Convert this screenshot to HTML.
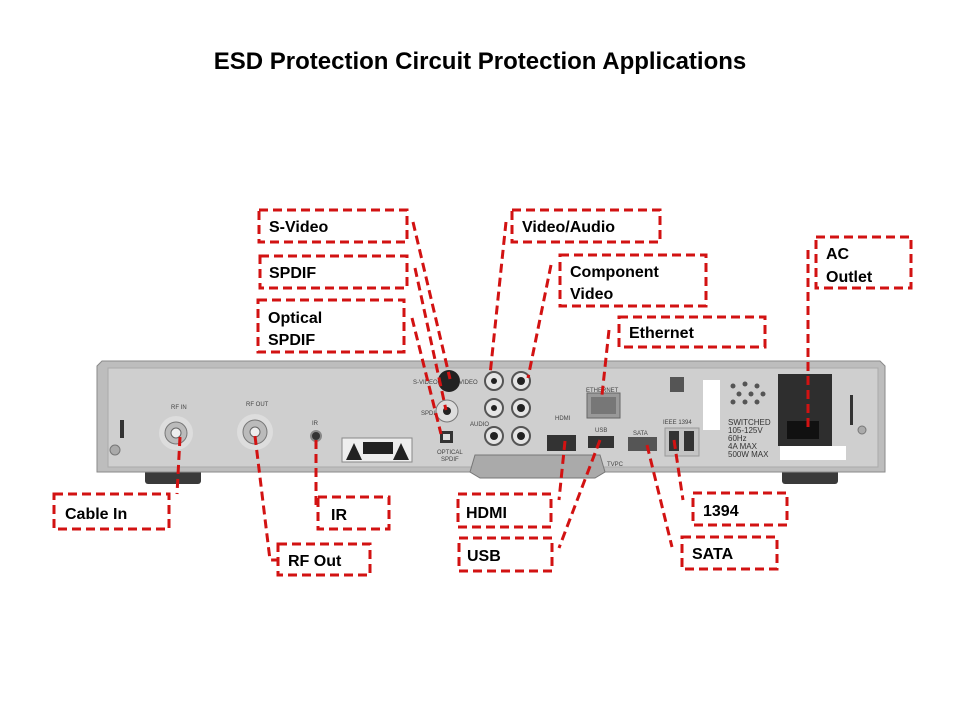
<!DOCTYPE html>
<html><head><meta charset="utf-8"><style>
html,body{margin:0;padding:0;background:#fff;}
svg{display:block}
text{font-family:"Liberation Sans",sans-serif;}
.l{font-weight:bold;font-size:16px;fill:#000}
.b{fill:none;stroke:#d21212;stroke-width:3;stroke-dasharray:9 5}
.c{fill:none;stroke:#d21212;stroke-width:3;stroke-dasharray:9 5}
.s{font-size:6px;fill:#444}
</style></head><body>
<svg width="960" height="720" viewBox="0 0 960 720">
<text x="480" y="69" text-anchor="middle" style="font-weight:bold;font-size:24px">ESD Protection Circuit Protection Applications</text>

<!-- device -->
<rect x="145" y="466" width="56" height="18" rx="3" fill="#3a3a3a"/>
<rect x="782" y="466" width="56" height="18" rx="3" fill="#3a3a3a"/>
<path d="M97 366 L102 361 L880 361 L885 366 L885 472 L97 472 Z" fill="#bdbdbd" stroke="#8a8a8a"/>
<rect x="108" y="368" width="770" height="99" fill="#cfcfcf" stroke="#aaa"/>
<rect x="120" y="420" width="4" height="18" fill="#333"/>
<circle cx="115" cy="450" r="5" fill="#aaa" stroke="#777"/>
<!-- RF -->
<text x="171" y="409" class="s">RF IN</text>
<circle cx="176" cy="433" r="17" fill="#ddd"/>
<circle cx="176" cy="433" r="11" fill="#bbb" stroke="#777"/>
<circle cx="176" cy="433" r="5" fill="#eee" stroke="#666"/>
<text x="246" y="406" class="s">RF OUT</text>
<circle cx="255" cy="432" r="18" fill="#ddd"/>
<circle cx="255" cy="432" r="12" fill="#bbb" stroke="#777"/>
<circle cx="255" cy="432" r="5" fill="#eee" stroke="#666"/>
<text x="312" y="425" class="s">IR</text>
<circle cx="316" cy="436" r="5" fill="#333" stroke="#888" stroke-width="2"/>
<rect x="342" y="438" width="70" height="24" fill="#eee" stroke="#888"/>
<path d="M346 460 L354 443 L362 460 Z M393 460 L401 443 L409 460 Z" fill="#222"/>
<rect x="363" y="442" width="30" height="12" fill="#222"/>
<!-- AV -->
<text x="413" y="384" class="s">S-VIDEO</text>
<circle cx="449" cy="381" r="11" fill="#222"/>
<text x="421" y="415" class="s">SPDIF</text>
<circle cx="447" cy="411" r="11" fill="#ddd" stroke="#777"/><circle cx="447" cy="411" r="4" fill="#222"/>
<rect x="440" y="431" width="13" height="12" fill="#333"/><rect x="443" y="434" width="7" height="6" fill="#ddd"/>
<text x="437" y="454" class="s">OPTICAL</text><text x="441" y="461" class="s">SPDIF</text>
<text x="459" y="384" class="s">VIDEO</text>
<g fill="#e5e5e5" stroke="#555" stroke-width="2">
<circle cx="494" cy="381" r="9"/><circle cx="521" cy="381" r="9"/>
<circle cx="494" cy="408" r="9"/><circle cx="521" cy="408" r="9"/>
<circle cx="494" cy="436" r="9"/><circle cx="521" cy="436" r="9"/></g>
<g fill="#222"><circle cx="494" cy="381" r="3"/><circle cx="521" cy="381" r="4"/><circle cx="494" cy="408" r="3"/><circle cx="521" cy="408" r="4"/><circle cx="494" cy="436" r="4"/><circle cx="521" cy="436" r="4"/></g>
<text x="470" y="426" class="s">AUDIO</text>
<text x="555" y="420" class="s">HDMI</text>
<rect x="547" y="435" width="29" height="16" fill="#333"/>
<text x="595" y="432" class="s">USB</text>
<rect x="588" y="436" width="26" height="12" fill="#333"/>
<text x="586" y="392" class="s">ETHERNET</text>
<rect x="587" y="393" width="33" height="25" fill="#999" stroke="#666"/>
<rect x="591" y="397" width="25" height="17" fill="#777"/>
<text x="633" y="435" class="s">SATA</text>
<rect x="628" y="437" width="29" height="14" fill="#555"/>
<text x="663" y="424" class="s">IEEE 1394</text>
<rect x="665" y="428" width="34" height="28" fill="#c4c4c4" stroke="#999"/>
<rect x="669" y="431" width="10" height="20" fill="#333"/><rect x="684" y="431" width="10" height="20" fill="#333"/>
<path d="M470 472 L475 455 L600 455 L605 472 L595 478 L480 478 Z" fill="#aaa" stroke="#777"/>
<text x="607" y="466" class="s">TVPC</text>
<rect x="670" y="377" width="14" height="15" fill="#555"/>
<rect x="703" y="380" width="17" height="50" fill="#fff"/>
<g fill="#555"><circle cx="733" cy="386" r="2.5"/><circle cx="745" cy="384" r="2.5"/><circle cx="757" cy="386" r="2.5"/><circle cx="739" cy="394" r="2.5"/><circle cx="751" cy="394" r="2.5"/><circle cx="763" cy="394" r="2.5"/><circle cx="733" cy="402" r="2.5"/><circle cx="745" cy="402" r="2.5"/><circle cx="757" cy="402" r="2.5"/></g>
<text x="728" y="425" style="font-size:8px;fill:#333">SWITCHED</text>
<text x="728" y="433" style="font-size:8px;fill:#333">105-125V</text>
<text x="728" y="441" style="font-size:8px;fill:#333">60Hz</text>
<text x="728" y="449" style="font-size:8px;fill:#333">4A  MAX</text>
<text x="728" y="457" style="font-size:8px;fill:#333">500W  MAX</text>
<rect x="778" y="374" width="54" height="72" fill="#2e2e2e"/>
<rect x="787" y="421" width="32" height="18" fill="#111"/>
<rect x="780" y="446" width="66" height="14" fill="#fff"/>
<rect x="850" y="395" width="3" height="30" fill="#333"/>
<circle cx="862" cy="430" r="4" fill="#aaa" stroke="#777"/>

<!-- boxes -->
<rect class="b" x="259" y="210" width="148" height="32"/><text class="l" x="269" y="232">S-Video</text>
<rect class="b" x="260" y="256" width="147" height="32"/><text class="l" x="269" y="278">SPDIF</text>
<rect class="b" x="258" y="300" width="146" height="52"/><text class="l" x="268" y="323">Optical</text><text class="l" x="268" y="345">SPDIF</text>
<rect class="b" x="512" y="210" width="148" height="32"/><text class="l" x="522" y="232">Video/Audio</text>
<rect class="b" x="560" y="255" width="146" height="51"/><text class="l" x="570" y="277">Component</text><text class="l" x="570" y="299">Video</text>
<rect class="b" x="619" y="317" width="146" height="30"/><text class="l" x="629" y="338">Ethernet</text>
<rect class="b" x="816" y="237" width="95" height="51"/><text class="l" x="826" y="259">AC</text><text class="l" x="826" y="282">Outlet</text>
<rect class="b" x="54" y="494" width="115" height="35"/><text class="l" x="65" y="519">Cable In</text>
<rect class="b" x="278" y="544" width="92" height="31"/><text class="l" x="288" y="566">RF Out</text>
<rect class="b" x="318" y="497" width="71" height="32"/><text class="l" x="331" y="520">IR</text>
<rect class="b" x="458" y="494" width="93" height="33"/><text class="l" x="466" y="518">HDMI</text>
<rect class="b" x="459" y="538" width="93" height="33"/><text class="l" x="467" y="561">USB</text>
<rect class="b" x="693" y="493" width="94" height="32"/><text class="l" x="703" y="516">1394</text>
<rect class="b" x="682" y="537" width="95" height="32"/><text class="l" x="692" y="559">SATA</text>

<!-- connectors -->
<path class="c" d="M413 222 L450 379"/>
<path class="c" d="M415 268 L446 410"/>
<path class="c" d="M412 318 L441 434"/>
<path class="c" d="M506 222 L490 375"/>
<path class="c" d="M551 265 L528 378"/>
<path class="c" d="M609 330 L602 395"/>
<path class="c" d="M808 250 L808 428"/>
<path class="c" d="M180 437 L177 494"/>
<path class="c" d="M255 436 L270 560 L278 560"/>
<path class="c" d="M316 440 L316 510"/>
<path class="c" d="M565 441 L559 500"/>
<path class="c" d="M600 440 L559 548"/>
<path class="c" d="M647 445 L672 547"/>
<path class="c" d="M674 440 L683 500"/>
</svg>
</body></html>
